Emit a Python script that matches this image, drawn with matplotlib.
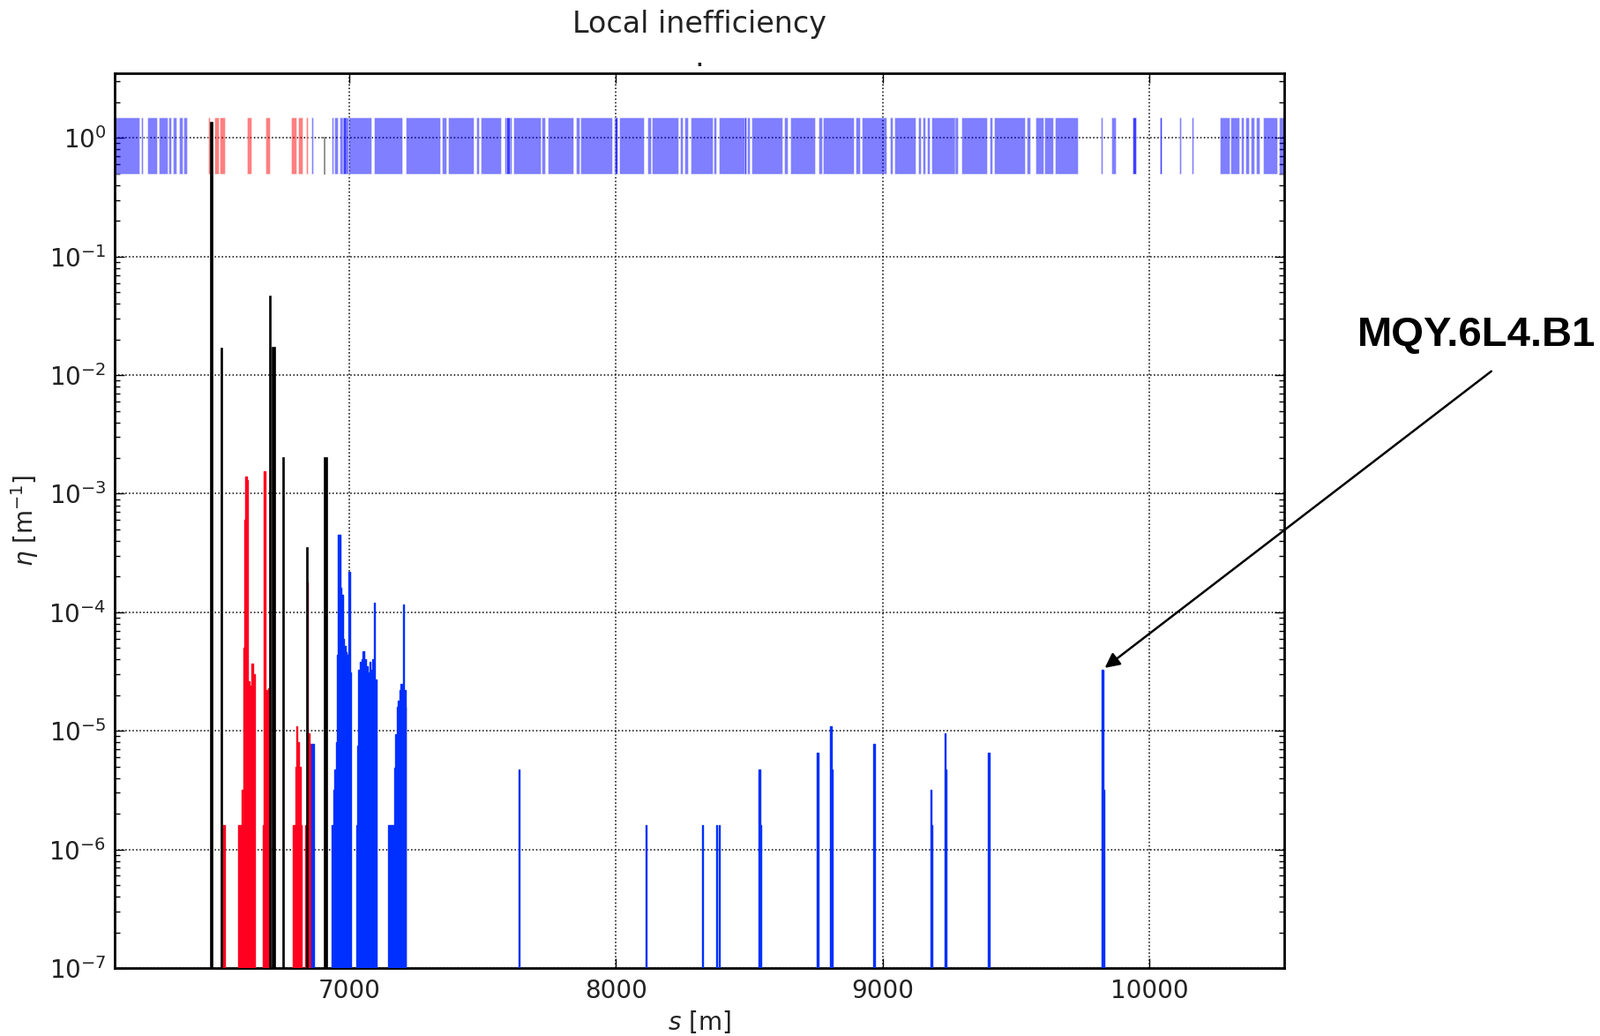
import matplotlib
matplotlib.use("Agg")
import matplotlib.pyplot as plt
import numpy as np

# aperture / element markers drawn as a strip at eta ~ 1  (start, end) in m
cold_elem_start = [6120, 6220, 6243, 6284, 6322, 6337, 6361, 6379, 6857, 6932, 6945, 6964, 6973, 6978,
                   6998, 7092, 7210, 7347, 7369, 7476, 7493, 7582, 7590, 7614, 7722, 7744, 7851, 7867,
                   7992, 7994, 8011, 8119, 8135, 8240, 8257, 8279, 8364, 8385, 8482, 8490, 8508, 8631,
                   8653, 8760, 8777, 8898, 8921, 9026, 9042, 9133, 9149, 9166, 9182, 9267, 9295, 9400,
                   9417, 9538, 9573, 9607, 9645, 9818, 9858, 9935, 9935, 10040, 10040, 10113, 10158,
                   10264, 10304, 10343, 10359, 10381, 10398, 10425, 10486]
cold_elem_end = [6214, 6227, 6278, 6317, 6331, 6350, 6375, 6390, 6864, 6941, 6956, 6978, 6986, 6998,
                 7081, 7199, 7342, 7364, 7466, 7487, 7570, 7608, 7601, 7716, 7733, 7841, 7862, 7986,
                 8006, 8004, 8105, 8130, 8234, 8251, 8268, 8361, 8374, 8488, 8488, 8502, 8623, 8642,
                 8747, 8771, 8892, 8914, 9015, 9037, 9122, 9144, 9160, 9177, 9281, 9272, 9389, 9411,
                 9533, 9551, 9601, 9640, 9730, 9824, 9874, 9948, 9948, 10045, 10045, 10119, 10163,
                 10299, 10337, 10354, 10372, 10392, 10411, 10477, 10505]
warm_elem_start = [6471, 6493, 6515, 6617, 6684, 6783, 6807, 6839]
warm_elem_end = [6478, 6511, 6535, 6634, 6702, 6802, 6824, 6846]

# collimator losses (black)
coll_s = [6484, 6521, 6704, 6717, 6754, 6843, 6912]
coll_w = [4, 4, 4, 9, 4, 4, 9]
coll_eta = [1.35, 1.67e-2, 4.6e-2, 1.7e-2, 2.0e-3, 3.5e-4, 2.0e-3]

# warm losses (red): bin start, bin end, eta
warm_s0 = [6523, 6584, 6595, 6604, 6607, 6610, 6615, 6620, 6625, 6633, 6638,
           6677, 6680, 6684, 6690, 6697,
           6789, 6797, 6802, 6806, 6812, 6818,
           6836, 6840, 6843, 6852]
warm_s1 = [6534, 6595, 6604, 6607, 6610, 6615, 6620, 6625, 6633, 6638, 6645,
           6680, 6684, 6690, 6697, 6703,
           6797, 6802, 6806, 6812, 6818, 6822,
           6840, 6843, 6852, 6858]
warm_eta = [1.6e-6, 1.6e-6, 3.2e-6, 5e-5, 6e-4, 1.4e-3, 1.3e-3, 2.6e-5, 2.4e-5, 3.7e-5, 3.0e-5,
            1.6e-6, 1.55e-3, 2.0e-5, 2.2e-5, 2.3e-5,
            1.6e-6, 5e-6, 1.1e-5, 8e-6, 5e-6, 1.6e-6,
            1.6e-6, 1.8e-4, 9.5e-6, 7.7e-6]

# cold losses (blue)
cold_s0 = [6857,
           6932, 6940, 6945, 6951, 6955, 6958, 6967, 6970, 6976, 6980, 6985, 6990, 6998, 7002,
           7026, 7030, 7034, 7038, 7046, 7050, 7056, 7063, 7070, 7075, 7080, 7086, 7091, 7095,
           7146, 7169, 7173, 7178, 7182, 7187, 7192, 7198, 7202, 7206, 7210,
           7634, 8112, 8323, 8376, 8386, 8535, 8540, 8754, 8802, 8807, 8964,
           9178, 9182, 9231, 9236, 9393, 9822, 9827]
cold_s1 = [6866,
           6940, 6945, 6951, 6955, 6958, 6967, 6970, 6976, 6980, 6985, 6990, 6998, 7002, 7008,
           7030, 7034, 7038, 7046, 7050, 7056, 7063, 7070, 7075, 7080, 7086, 7091, 7095, 7101,
           7169, 7173, 7178, 7182, 7187, 7192, 7198, 7202, 7206, 7210, 7213,
           7638, 8115, 8327, 8380, 8390, 8540, 8544, 8760, 8807, 8812, 8970,
           9182, 9186, 9236, 9240, 9399, 9827, 9830]
cold_eta = [7.7e-6,
            1.6e-6, 3.2e-6, 4.7e-6, 8e-6, 4.4e-5, 4.5e-4, 1.6e-4, 1.4e-4, 6e-5, 5.2e-5, 4.6e-5, 4.4e-5, 2.2e-4, 3.1e-5,
            1.6e-6, 7.5e-6, 3.3e-5, 3.8e-5, 4.0e-5, 4.7e-5, 4.0e-5, 3.5e-5, 3.1e-5, 3.8e-5, 3.3e-5, 4.0e-5, 1.2e-4, 2.7e-5,
            1.6e-6, 4.9e-6, 9.4e-6, 1.6e-5, 1.8e-5, 2.2e-5, 2.5e-5, 2.2e-5, 1.16e-4, 2.2e-5, 1.6e-5,
            4.7e-6, 1.6e-6, 1.6e-6, 1.6e-6, 1.6e-6, 4.7e-6, 1.6e-6, 6.5e-6, 1.1e-5, 4.7e-6, 7.7e-6,
            3.2e-6, 1.6e-6, 9.6e-6, 4.7e-6, 6.5e-6, 3.3e-5, 3.2e-6]

# style similar to old matplotlib
plt.rcParams['font.family'] = 'DejaVu Sans'
plt.rcParams['mathtext.fontset'] = 'dejavusans'
plt.rcParams['xtick.direction'] = 'in'
plt.rcParams['ytick.direction'] = 'in'

fig = plt.figure(figsize=(18.15, 11.74), dpi=100)
ax = fig.add_axes([0.0716, 0.0656, 0.7306, 0.8635])
ax.set_yscale('log')

# element strip
ax.bar(cold_elem_start, 1.0, width=np.array(cold_elem_end) - np.array(cold_elem_start),
       bottom=0.5, align='edge', color='blue', alpha=0.5, edgecolor='white', linewidth=0.6, zorder=2)
ax.bar(warm_elem_start, 1.0, width=np.array(warm_elem_end) - np.array(warm_elem_start),
       bottom=0.5, align='edge', color='red', alpha=0.5, edgecolor='white', linewidth=0.6, zorder=2)
ax.plot([6898, 6906, 6906], [1.0, 1.0, 0.5], color='gray', lw=1.2, zorder=2)

# losses
ax.bar(warm_s0, warm_eta, width=np.array(warm_s1) - np.array(warm_s0), bottom=1e-8,
       align='edge', color='#ff0020', edgecolor='#ff0020', linewidth=1, zorder=3)
ax.bar(cold_s0, cold_eta, width=np.array(cold_s1) - np.array(cold_s0), bottom=1e-8,
       align='edge', color='#0030ff', edgecolor='#0030ff', linewidth=1, zorder=3)
ax.bar(coll_s, coll_eta, width=coll_w, bottom=1e-8, align='center',
       color='black', edgecolor='black', linewidth=1.2, zorder=4)

ax.set_xlim(6120, 10505)
ax.set_ylim(1e-7, 3.5)
ax.set_xticks([7000, 8000, 9000, 10000])
ax.grid(True, which='major', linestyle=':', color='black', linewidth=1.1)
ax.tick_params(which='both', top=True, right=True, labelsize=20, labelcolor='#222222')
ax.tick_params(which='major', length=8, width=1)
ax.tick_params(which='minor', length=4, width=1)
ax.tick_params(axis='x', pad=9)
ax.tick_params(axis='y', pad=7)
for sp in ax.spines.values():
    sp.set_linewidth(2)

ax.set_title('Local inefficiency\n.', fontsize=24, pad=6, color='#222222')
ax.set_xlabel('$s$ [m]', fontsize=20, labelpad=4, color='#222222')
ax.set_ylabel('$\\eta$ [m$^{-1}$]', fontsize=20, color='#222222')
ax.yaxis.set_label_coords(-0.063, 0.5)

# annotation
fig.text(1539 / 1815, 1 - 380 / 1174, 'MQY.6L4.B1', fontsize=34, fontweight='bold',
         family='Liberation Sans', ha='left', va='center')
ax.annotate('', xy=(9825, 3.3e-5), xycoords='data',
            xytext=(1693 / 1815, 1 - 419 / 1174), textcoords='figure fraction',
            arrowprops=dict(arrowstyle='-|>', color='black', lw=1.8, mutation_scale=25))

fig.savefig('out.png', dpi=100)
